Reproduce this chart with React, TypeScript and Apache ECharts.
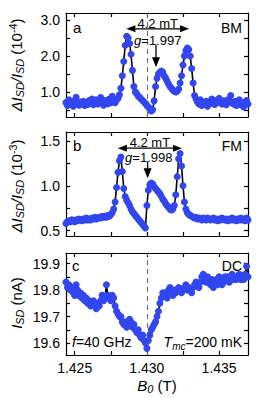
import React, { useEffect, useRef } from "react";
import * as echarts from "echarts";

// Magnetic field B0 (T)
const B = [
  1.4244, 1.4245, 1.4246, 1.4247, 1.4248, 1.4249, 1.4250, 1.4251, 1.4252, 1.4253,
  1.4254, 1.4255, 1.4256, 1.4257, 1.4258, 1.4259, 1.4260, 1.4261, 1.4262, 1.4263,
  1.4264, 1.4265, 1.4266, 1.4267, 1.4268, 1.4269, 1.4270, 1.4271, 1.4272, 1.4273,
  1.4274, 1.4275, 1.4276, 1.4277, 1.4278, 1.4279, 1.4280, 1.4281, 1.4282, 1.4283,
  1.4284, 1.4285, 1.4286, 1.4287, 1.4288, 1.4289, 1.4290, 1.4291, 1.4292, 1.4293,
  1.4294, 1.4295, 1.4296, 1.4297, 1.4298, 1.4299, 1.4300, 1.4301, 1.4302, 1.4303,
  1.4304, 1.4305, 1.4306, 1.4307, 1.4308, 1.4309, 1.4310, 1.4311, 1.4312, 1.4313,
  1.4314, 1.4315, 1.4316, 1.4317, 1.4318, 1.4319, 1.4320, 1.4321, 1.4322, 1.4323,
  1.4324, 1.4325, 1.4326, 1.4327, 1.4328, 1.4329, 1.4330, 1.4331, 1.4332, 1.4333,
  1.4334, 1.4335, 1.4336, 1.4337, 1.4338, 1.4339, 1.4340, 1.4341, 1.4342, 1.4343,
  1.4344, 1.4345, 1.4346, 1.4347, 1.4348, 1.4349, 1.4350, 1.4351, 1.4352, 1.4353,
  1.4354, 1.4355, 1.4356, 1.4357, 1.4358, 1.4359, 1.4360, 1.4361, 1.4362, 1.4363,
  1.4364, 1.4365, 1.4366, 1.4367, 1.4368, 1.4369, 1.4370,
];

// Panel a: BM, ΔI/I (1e-4)
const bmSignal = [
  0.70, 0.62, 0.78, 0.66, 0.72, 0.60, 0.75, 0.85, 0.68, 0.63,
  0.72, 0.66, 0.74, 0.62, 0.70, 0.65, 0.76, 0.68, 0.80, 0.64,
  0.71, 0.78, 0.66, 0.74, 0.84, 0.70, 0.63, 0.76, 0.72, 0.67,
  0.80, 0.70, 0.88, 0.74, 0.70, 0.78, 0.82, 0.92, 1.10, 1.45,
  1.85, 2.30, 2.55, 2.50, 2.35, 2.05, 1.60, 1.15, 1.00, 0.95,
  0.88, 0.85, 0.80, 0.76, 0.72, 0.68, 0.62, 0.58, 0.52, 0.47,
  0.50, 0.75, 1.15, 1.38, 1.50, 1.55, 1.58, 1.55, 1.45, 1.38,
  1.30, 1.22, 1.15, 1.10, 1.05, 1.02, 1.00, 1.02, 1.08, 1.25,
  1.45, 1.75, 2.00, 2.15, 2.22, 2.18, 2.00, 1.65, 1.25, 0.90,
  0.80, 0.72, 0.66, 0.78, 0.62, 0.70, 0.66, 0.74, 0.60, 0.72,
  0.68, 0.80, 0.70, 0.65, 0.76, 0.72, 0.82, 0.70, 0.66, 0.75,
  0.70, 0.64, 0.78, 0.72, 0.90, 0.70, 0.66, 0.74, 0.62, 0.70,
  0.78, 0.64, 0.68, 0.58, 0.72, 0.76, 0.66,
];

// Panel b: FM, ΔI/I (1e-3)
const fmSignal = [
  0.58, 0.60, 0.61, 0.60, 0.62, 0.61, 0.60, 0.62, 0.61, 0.63,
  0.62, 0.61, 0.63, 0.62, 0.64, 0.62, 0.63, 0.62, 0.64, 0.63,
  0.65, 0.63, 0.64, 0.65, 0.64, 0.66, 0.65, 0.66, 0.65, 0.67,
  0.66, 0.68, 0.70, 0.74, 0.82, 0.98, 1.15, 1.28, 1.32, 1.16,
  0.97, 0.88, 0.84, 0.81, 0.78, 0.74, 0.71, 0.69, 0.67, 0.65,
  0.63, 0.61, 0.59, 0.57, 0.55, 0.53, 0.78, 0.95, 1.01, 1.03,
  1.02, 0.99, 0.97, 0.95, 0.93, 0.91, 0.88, 0.85, 0.83, 0.80,
  0.78, 0.76, 0.74, 0.73, 0.74, 0.78, 0.90, 1.10, 1.30, 1.36,
  1.22, 1.00, 0.82, 0.74, 0.70, 0.68, 0.67, 0.66, 0.65, 0.64,
  0.65, 0.63, 0.64, 0.63, 0.62, 0.64, 0.63, 0.62, 0.64, 0.63,
  0.62, 0.63, 0.64, 0.62, 0.63, 0.61, 0.63, 0.62, 0.64, 0.63,
  0.62, 0.63, 0.61, 0.63, 0.62, 0.64, 0.62, 0.63, 0.61, 0.63,
  0.62, 0.64, 0.62, 0.63, 0.61, 0.64, 0.62,
];

// Panel c: DC, I_SD (nA)
const dcCurrent = [
  19.83, 19.81, 19.82, 19.80, 19.81, 19.79, 19.78, 19.82, 19.80, 19.78,
  19.79, 19.77, 19.78, 19.76, 19.77, 19.75, 19.76, 19.74, 19.75, 19.76,
  19.74, 19.73, 19.75, 19.74, 19.76, 19.78, 19.76, 19.77, 19.82, 19.78,
  19.77, 19.76, 19.78, 19.77, 19.74, 19.72, 19.71, 19.70, 19.70, 19.68,
  19.67, 19.68, 19.66, 19.67, 19.69, 19.68, 19.66, 19.67, 19.65, 19.64,
  19.65, 19.63, 19.62, 19.63, 19.61, 19.60, 19.58, 19.61, 19.63, 19.65,
  19.66, 19.67, 19.68, 19.70, 19.72, 19.75, 19.77, 19.79, 19.78, 19.79,
  19.77, 19.80, 19.81, 19.79, 19.78, 19.80, 19.79, 19.80, 19.81, 19.80,
  19.79, 19.80, 19.81, 19.82, 19.80, 19.81, 19.80, 19.79, 19.81, 19.82,
  19.83, 19.82, 19.81, 19.83, 19.85, 19.86, 19.84, 19.83, 19.85, 19.84,
  19.82, 19.84, 19.81, 19.83, 19.84, 19.82, 19.85, 19.84, 19.82, 19.83,
  19.85, 19.84, 19.85, 19.83, 19.84, 19.86, 19.84, 19.85, 19.84, 19.85,
  19.86, 19.84, 19.85, 19.84, 19.86, 19.89, 19.85,
];

const xTicks = [1.425, 1.4275, 1.43, 1.4325, 1.435];
const xLabels = [1.425, 1.43, 1.435];
const yTicksA = [0.5, 1.0, 1.5, 2.0, 2.5, 3.0];
const yLabelsA = [1.0, 2.0, 3.0];
const yTicksB = [0.5, 0.75, 1.0, 1.25, 1.5];
const yLabelsB = [0.5, 1.0, 1.5];
const yTicksC = [19.6, 19.65, 19.7, 19.75, 19.8, 19.85, 19.9];
const yLabelsC = [19.6, 19.7, 19.8, 19.9];
const resonanceField = 1.43;

const FONT = "Liberation Sans, Arial, sans-serif";
const BLUE = "#3246f0";

export default function App() {
  const ref = useRef<HTMLDivElement>(null);
  useEffect(() => {
    if (!ref.current) return;
    const chart = echarts.init(ref.current, undefined, { renderer: "svg" });
    const L = 66, W = 182;
    const grids = [
      { left: L, top: 13, width: W, height: 104 },
      { left: L, top: 132, width: W, height: 104 },
      { left: L, top: 253, width: W, height: 102 },
    ];
    const ranges = [
      [0.3, 3.2, yTicksA, yLabelsA],
      [0.44, 1.6, yTicksB, yLabelsB],
      [19.555, 19.94, yTicksC, yLabelsC],
    ] as any[];
    const axLine = { show: true, lineStyle: { color: "#000", width: 1.2 } };
    const xAxis: any[] = [];
    const yAxis: any[] = [];
    for (let i = 0; i < 3; i++) {
      for (const pos of ["bottom", "top"]) {
        xAxis.push({
          type: "value", gridIndex: i, position: pos, min: 1.4244, max: 1.4370,
          axisLine: axLine, splitLine: { show: false },
          axisTick: { show: true, inside: true, length: 4, customValues: xTicks, lineStyle: { color: "#000", width: 1.2 } },
          axisLabel: {
            show: i === 2 && pos === "bottom", customValues: xLabels, margin: 6,
            formatter: (v: number) => v.toFixed(3), color: "#000", fontSize: 14, fontFamily: FONT,
          },
        });
      }
      for (const pos of ["left", "right"]) {
        const r = ranges[i];
        yAxis.push({
          type: "value", gridIndex: i, position: pos, min: r[0], max: r[1],
          axisLine: axLine, splitLine: { show: false },
          axisTick: { show: true, inside: true, length: 4, customValues: r[2], lineStyle: { color: "#000", width: 1.2 } },
          axisLabel: {
            show: pos === "left", customValues: r[3], margin: 6,
            formatter: (v: number) => v.toFixed(1), color: "#000", fontSize: 14, fontFamily: FONT,
          },
        });
      }
    }
    const mk = (data: number[], gi: number, dashed: boolean) => ({
      type: "line", xAxisIndex: gi * 2, yAxisIndex: gi * 2,
      data: B.map((b, k) => [b, data[k]]),
      symbol: "circle", symbolSize: 7, showSymbol: true,
      itemStyle: { color: BLUE, borderWidth: 0 },
      lineStyle: { color: "#000", width: 1.6 },
      markLine: dashed ? {
        silent: true, symbol: "none", label: { show: false },
        lineStyle: { color: "#666", type: [5, 4], width: 1 },
        data: [{ xAxis: resonanceField }],
        z: 1,
      } : undefined,
    });
    chart.setOption({
      animation: false,
      grid: grids,
      xAxis, yAxis,
      series: [mk(bmSignal, 0, true), mk(fmSignal, 1, false), mk(dcCurrent, 2, true)],
    });

    const px = (gi: number, x: number, y: number) => chart.convertToPixel({ gridIndex: gi } as any, [x, y]) as number[];
    const g: any[] = [];
    const txt = (x: number, y: number, text: string, rich: any, align = "left", extra: any = {}) =>
      g.push({
        type: "text", x, y, ...extra,
        style: { text, rich, fontSize: 14, fontFamily: FONT, fill: "#000", align, verticalAlign: "middle" },
      });
    const baseRich = (fs: number) => ({
      n: { fontSize: fs, fontFamily: FONT, lineHeight: 18, verticalAlign: "middle" },
      i: { fontSize: fs, fontFamily: FONT, fontStyle: "italic", lineHeight: 18, verticalAlign: "middle" },
      s: { fontSize: fs * 0.72, fontFamily: FONT, fontStyle: "italic", lineHeight: 7, verticalAlign: "bottom" },
      p: { fontSize: fs * 0.72, fontFamily: FONT, lineHeight: 8, verticalAlign: "top" },
    });
    const doubleArrow = (gi: number, x1: number, x2: number, y: number) => {
      const a = px(gi, x1, y), b = px(gi, x2, y);
      g.push({ type: "line", shape: { x1: a[0] + 6, y1: a[1], x2: b[0] - 6, y2: b[1] }, style: { stroke: "#000", lineWidth: 1.3 } });
      g.push({ type: "polygon", shape: { points: [[a[0], a[1]], [a[0] + 9, a[1] - 3.5], [a[0] + 9, a[1] + 3.5]] }, style: { fill: "#000" } });
      g.push({ type: "polygon", shape: { points: [[b[0], b[1]], [b[0] - 9, b[1] - 3.5], [b[0] - 9, b[1] + 3.5]] }, style: { fill: "#000" } });
    };
    const downArrow = (gi: number, x: number, y1: number, y2: number) => {
      const a = px(gi, x, y1), b = px(gi, x, y2);
      g.push({ type: "line", shape: { x1: a[0], y1: a[1], x2: b[0], y2: b[1] - 8 }, style: { stroke: "#000", lineWidth: 1.3 } });
      g.push({ type: "polygon", shape: { points: [[b[0], b[1]], [b[0] - 4, b[1] - 10], [b[0] + 4, b[1] - 10]] }, style: { fill: "#000" } });
    };
    // Panel a annotations
    doubleArrow(0, 1.42858, 1.43292, 2.76);
    const ta = px(0, 1.43075, 2.9);
    txt(ta[0], ta[1], "{n|4.2 mT}", baseRich(13), "center");
    const ga = px(0, 1.43075, 2.44);
    txt(ga[0], ga[1], "{i|g}{n|=1.997}", baseRich(13), "center");
    downArrow(0, 1.43063, 2.31, 1.69);
    // Panel b annotations
    doubleArrow(1, 1.42799, 1.43243, 1.42);
    const tb = px(1, 1.43021, 1.48);
    txt(tb[0], tb[1], "{n|4.2 mT}", baseRich(13), "center");
    const gb = px(1, 1.43013, 1.32);
    txt(gb[0], gb[1], "{i|g}{n|=1.998}", baseRich(13), "center");
    downArrow(1, 1.43005, 1.27, 1.085);

    // panel letters / labels
    const R = L + W;
    txt(L + 7, 27, "{n|a}", baseRich(15));
    txt(R - 6, 28, "{n|BM}", baseRich(14), "right");
    txt(L + 7, 145, "{n|b}", baseRich(15));
    txt(R - 6, 146, "{n|FM}", baseRich(14), "right");
    txt(L + 6, 265, "{n|c}", baseRich(15));
    txt(R - 6, 266, "{n|DC}", baseRich(14), "right");
    txt(L + 6, 342, "{i|f}{n|=40 GHz}", baseRich(14));
    txt(R - 6, 342, "{i|T}{s|mc}{n|=200 mK}", baseRich(14), "right");

    // axis titles
    txt(157, 385, "{i|B}{s|0}{n| (T)}", baseRich(15), "center");
    const rot = { rotation: Math.PI / 2 };
    txt(16, 65, "{i|ΔI}{s|SD}{i|/I}{s|SD}{n| (10}{p|-4}{n|)}", baseRich(15), "center", rot);
    txt(16, 186, "{i|ΔI}{s|SD}{i|/I}{s|SD}{n| (10}{p|-3}{n|)}", baseRich(15), "center", rot);
    txt(16, 303, "{i|I}{s|SD}{n| (nA)}", baseRich(15), "center", rot);

    chart.setOption({ graphic: g });
    return () => chart.dispose();
  }, []);
  return <div ref={ref} style={{ position: "absolute", left: 0, top: 0, width: 273, height: 398 }} />;
}
